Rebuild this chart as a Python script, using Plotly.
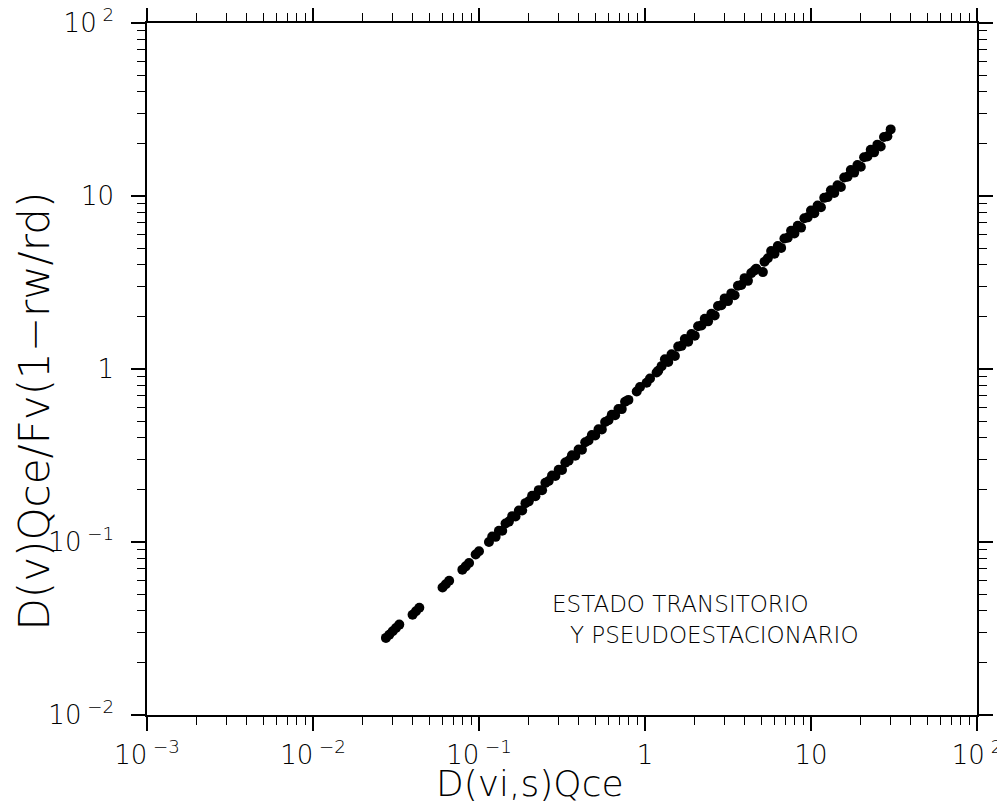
import plotly.graph_objects as go

# ---- data (log-log scatter band) ----
x_vals = [
    0.0275, 0.0288, 0.0302, 0.0316, 0.0331,
    0.0398, 0.0417, 0.0437,
    0.0603, 0.0631, 0.0661,
    0.0794, 0.0832, 0.0871,
    0.0955, 0.1000,
    0.1148, 0.1202, 0.1259, 0.1318, 0.1380, 0.1445, 0.1514, 0.1585, 0.1660, 0.1738,
    0.1820, 0.1905, 0.1995, 0.2089, 0.2188, 0.2291, 0.2399, 0.2512, 0.2630, 0.2754,
    0.2884, 0.3020, 0.3162, 0.3311, 0.3467, 0.3631, 0.3802, 0.3981, 0.4169, 0.4365,
    0.4571, 0.4786, 0.5012, 0.5248, 0.5495, 0.5754, 0.6026, 0.6310, 0.6607, 0.6918,
    0.7244, 0.7586, 0.7943,
    0.8913, 0.9333, 1.023, 1.072, 1.175, 1.202,
    1.259, 1.318, 1.380, 1.445, 1.514, 1.585, 1.660, 1.738, 1.820, 1.905,
    1.995, 2.089, 2.188, 2.291, 2.399, 2.512, 2.630, 2.754, 2.884, 3.020,
    3.162, 3.311, 3.467, 3.631, 3.802, 3.981, 4.169, 4.365,
    4.571, 4.677, 5.129, 5.248, 5.495,
    5.754, 6.026, 6.310, 6.607, 6.918, 7.244, 7.586, 7.943, 8.318, 8.710,
    9.120, 9.550, 10.00, 10.47, 10.96, 11.48, 12.02, 12.59, 13.18, 13.80,
    14.45, 15.14, 15.85, 16.60, 17.38, 18.20, 19.05, 19.95, 20.89, 21.88,
    22.91, 23.99, 25.12, 26.30, 27.54, 28.84, 30.20,
]
y_vals = [
    0.0279, 0.0291, 0.0305, 0.0318, 0.0333,
    0.0380, 0.0398, 0.0417,
    0.0546, 0.0570, 0.0597,
    0.0692, 0.0723, 0.0757,
    0.0847, 0.0885,
    0.1001, 0.1077, 0.1071, 0.1162, 0.1161, 0.1280, 0.1312, 0.1411, 0.1403, 0.1522,
    0.1521, 0.1677, 0.1718, 0.1848, 0.1838, 0.1994, 0.1992, 0.2197, 0.2251, 0.2420,
    0.2406, 0.2612, 0.2609, 0.2877, 0.2949, 0.3170, 0.3153, 0.3421, 0.3417, 0.3770,
    0.3862, 0.4153, 0.4129, 0.4480, 0.4477, 0.4937, 0.5059, 0.5440, 0.5409, 0.5870,
    0.5864, 0.6469, 0.6627,
    0.741, 0.787, 0.832, 0.881, 0.955, 0.977,
    1.039, 1.138, 1.099, 1.217, 1.188, 1.347, 1.361, 1.491, 1.439, 1.594,
    1.556, 1.765, 1.783, 1.953, 1.885, 2.088, 2.038, 2.312, 2.335, 2.559,
    2.469, 2.735, 2.670, 3.027, 3.060, 3.351, 3.233, 3.583,
    3.715, 3.802, 3.631, 4.169, 4.365,
    4.803, 4.636, 5.135, 5.012, 5.684, 5.743, 6.292, 6.071, 6.726, 6.567,
    7.444, 7.524, 8.241, 7.952, 8.814, 8.604, 9.755, 9.856, 10.80, 10.42,
    11.54, 11.27, 12.78, 12.91, 14.14, 13.65, 15.12, 14.76, 16.74, 16.91,
    18.52, 17.88, 19.81, 19.34, 21.93, 22.15, 24.27,
]

x_tickvals = [0.001, 0.01, 0.1, 1, 10, 100]
x_ticktext = ["10<sup> −3</sup>", "10<sup> −2</sup>", "10<sup> −1</sup>", "1", "10", "10<sup> 2</sup>"]
y_tickvals = [0.01, 0.1, 1, 10, 100]
y_ticktext = ["10<sup> −2</sup>", "10<sup> −1</sup>", "1", "10", "10<sup> 2</sup>"]

x_title = "D(vi,s)Qce"
y_title = "D(v)Qce/Fv(1−rw/rd)"
note_line1 = "ESTADO TRANSITORIO"
note_line2 = "Y PSEUDOESTACIONARIO"

INK = "#000000"
FONT = "DejaVu Sans"

fig = go.Figure()
fig.add_trace(go.Scatter(
    x=x_vals, y=y_vals, mode="markers",
    marker=dict(color=INK, size=10, symbol="circle", line=dict(width=0)),
    showlegend=False, hoverinfo="skip",
))

axis_common = dict(
    type="log", showgrid=False, zeroline=False, automargin=False,
    showline=True, linecolor=INK, linewidth=1.5, mirror="allticks",
    ticks="outside", ticklen=14, tickwidth=1.5, tickcolor=INK,
    minor=dict(dtick="D1", ticks="outside", ticklen=8, tickwidth=1.2,
               tickcolor=INK, showgrid=False),
    tickfont=dict(family=FONT, size=26, color=INK, weight=300),
    ticklabeloverflow="allow",
)

fig.update_xaxes(
    **axis_common, range=[-3, 2],
    tickmode="array", tickvals=x_tickvals, ticktext=x_ticktext, ticklabelstandoff=2,
)
fig.update_yaxes(
    **axis_common, range=[-2, 2],
    tickmode="array", tickvals=y_tickvals, ticktext=y_ticktext, ticklabelstandoff=12,
)

# axis titles placed as annotations for exact positioning
fig.add_annotation(text=x_title, xref="paper", yref="paper", x=0.4614, y=-0.1315,
                   xanchor="center", yanchor="bottom", showarrow=False,
                   font=dict(family=FONT, size=36, color=INK, weight=300))
fig.add_annotation(text=y_title, xref="paper", yref="paper", x=-0.135, y=0.44,
                   xanchor="center", yanchor="middle", showarrow=False, textangle=-90,
                   font=dict(family=FONT, size=42, color=INK, weight=300))

fig.add_annotation(text=note_line1, xref="paper", yref="paper", x=0.4855, y=0.1604,
                   xanchor="left", yanchor="middle", showarrow=False,
                   font=dict(family=FONT, size=23, color=INK, weight=300))
fig.add_annotation(text=note_line2, xref="paper", yref="paper", x=0.5072, y=0.1156,
                   xanchor="left", yanchor="middle", showarrow=False,
                   font=dict(family=FONT, size=23, color=INK, weight=300))

# page body has an 8px default margin, so the figure is sized to fill the rest
fig.update_layout(
    width=997, height=799,
    margin=dict(l=139, r=28, t=15, b=92),
    paper_bgcolor="white", plot_bgcolor="white",
)

fig.write_html("out.html")
